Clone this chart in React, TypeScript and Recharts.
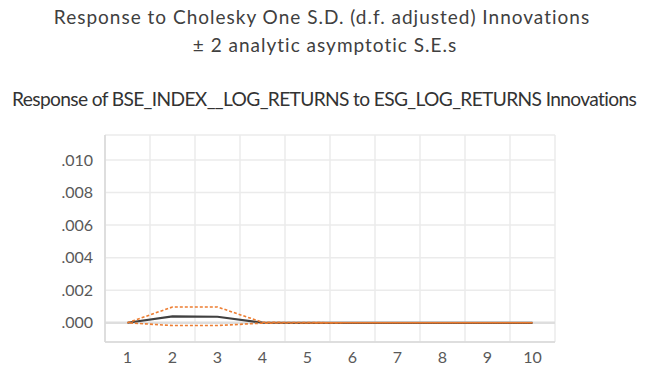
import { LineChart, Line, XAxis, YAxis, CartesianGrid, ReferenceLine } from "recharts";

const periods = [1, 2, 3, 4, 5, 6, 7, 8, 9, 10];
const response = [0, 0.00039, 0.00037, 0.00001, 0, 0, 0, 0, 0, 0];
const upperBand = [0, 0.00097, 0.00097, 0.00003, 0.00001, 0, 0, 0, 0, 0];
const lowerBand = [0, -0.00017, -0.00017, -0.00002, -0.00001, 0, 0, 0, 0, 0];
const yTicks = [0, 0.002, 0.004, 0.006, 0.008, 0.01];
const gridTicks = [0.5, 1.5, 2.5, 3.5, 4.5, 5.5, 6.5, 7.5, 8.5, 9.5, 10.5];

const data = periods.map((p, i) => ({
  period: p,
  response: response[i],
  upper: upperBand[i],
  lower: lowerBand[i],
}));

const font = "Lato, 'Open Sans', sans-serif";
const tickStyle = { fontSize: 16, fill: "#595959", fontFamily: font };
const orange = "#ed7d31";

const fmt = (v: number) => v.toFixed(3).replace(/^0/, "");

export default function App() {
  return (
    <div
      style={{
        position: "absolute",
        left: 0,
        top: 0,
        width: 662,
        height: 366,
        overflow: "hidden",
        background: "#fff",
        fontFamily: font,
        color: "#404040",
      }}
    >
      <div
        style={{
          position: "absolute",
          top: 5,
          left: 0,
          width: 644,
          textAlign: "center",
          fontSize: 19,
          letterSpacing: 1,
          whiteSpace: "nowrap",
        }}
      >
        Response to Cholesky One S.D. (d.f. adjusted) Innovations
      </div>
      <div
        style={{
          position: "absolute",
          top: 33,
          left: 0,
          width: 650,
          textAlign: "center",
          fontSize: 19,
          letterSpacing: 1,
          whiteSpace: "nowrap",
        }}
      >
        ± 2 analytic asymptotic S.E.s
      </div>
      <div
        style={{
          position: "absolute",
          top: 87,
          left: 12,
          whiteSpace: "nowrap",
          fontSize: 19.2,
          letterSpacing: -0.65,
          color: "#333",
        }}
      >
        Response of BSE_INDEX__LOG_RETURNS to ESG_LOG_RETURNS Innovations
      </div>
      <LineChart
        width={662}
        height={366}
        data={data}
        margin={{ top: 135, right: 107, bottom: 0, left: 60 }}
        style={{ position: "absolute", left: 0, top: 0 }}
      >
        <XAxis xAxisId="grid" type="number" dataKey="period" domain={[0.5, 10.5]} ticks={gridTicks} hide />
        <CartesianGrid xAxisId="grid" stroke="#ebebeb" strokeWidth={1.5} />
        <XAxis
          type="number"
          dataKey="period"
          domain={[0.5, 10.5]}
          ticks={periods}
          tick={tickStyle}
          tickLine={false}
          axisLine={{ stroke: "#d9d9d9", strokeWidth: 1.5 }}
          height={24}
          tickMargin={4}
          interval={0}
        />
        <YAxis
          domain={[-0.00118, 0.01153]}
          ticks={yTicks}
          tickFormatter={fmt}
          tick={tickStyle}
          tickLine={false}
          axisLine={{ stroke: "#d9d9d9", strokeWidth: 1.5 }}
          width={45}
          tickMargin={6}
          allowDataOverflow
        />
        <ReferenceLine y={0} stroke="#dedede" strokeWidth={2.5} />
        <Line
          dataKey="response"
          stroke="#404040"
          strokeWidth={2.2}
          dot={false}
          isAnimationActive={false}
        />
        <Line
          dataKey="upper"
          stroke={orange}
          strokeWidth={1.6}
          strokeDasharray="3 2"
          dot={false}
          isAnimationActive={false}
        />
        <Line
          dataKey="lower"
          stroke={orange}
          strokeWidth={1.6}
          strokeDasharray="3 2"
          strokeDashoffset={2.5}
          dot={false}
          isAnimationActive={false}
        />
      </LineChart>
    </div>
  );
}
